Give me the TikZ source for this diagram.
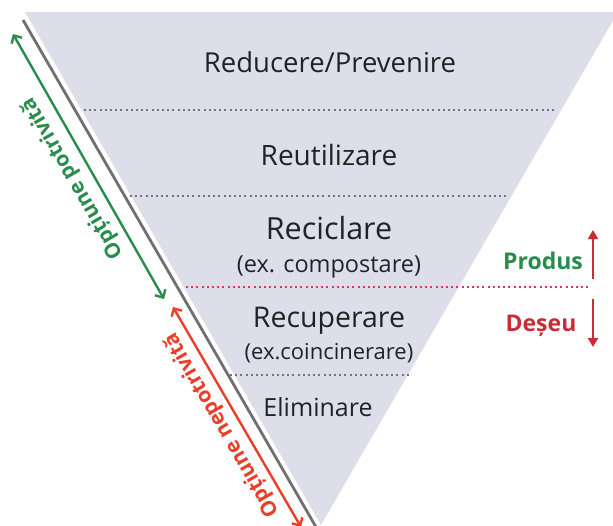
\documentclass[tikz,border=0pt]{standalone}
\usepackage{fontspec}
\setmainfont{Open Sans}
\usetikzlibrary{arrows.meta}
\definecolor{pyrfill}{RGB}{222,222,235}
\definecolor{edgegray}{RGB}{112,112,112}
\definecolor{dotgray}{RGB}{115,115,120}
\definecolor{dotred}{RGB}{210,60,80}
\definecolor{txtdark}{RGB}{34,34,38}
\definecolor{okgreen}{RGB}{42,140,76}
\definecolor{badred}{RGB}{235,62,42}
\definecolor{darkred}{RGB}{200,44,52}
\tikzset{
  lvl/.style={text=txtdark, inner sep=0pt, anchor=center},
  dotline/.style={line width=2pt, dash pattern=on 2pt off 3.2pt},
  sidelabel/.style={font=\fontsize{21}{25}\selectfont\bfseries, rotate=120, inner sep=0pt},
  dblarrow/.style={line width=2.4pt, {Straight Barb[length=6pt,width=12pt]}-{Straight Barb[length=6pt,width=12pt]}},
  flowarrow/.style={line width=2.6pt, darkred, -{Triangle[length=9pt,width=10pt]}},
}
\begin{document}
\begin{tikzpicture}[x=1pt,y=-1pt]
\useasboundingbox (0,0) rectangle (613,525);
\begin{scope}
\clip (0,0) rectangle (613,525);
% pyramid
\coordinate (TL) at (25,12);
\coordinate (TR) at (618,12);
\coordinate (AP) at (321,525);
\fill[pyrfill] (TL) -- (TR) -- (AP) -- cycle;
% gray edge line
\coordinate (G1) at (23,20);
\coordinate (G2) at (316,527);
\draw[edgegray, line width=2.8pt] (G1) -- (G2);
% dotted separators
\coordinate (d1a) at (84,110);  \coordinate (d1b) at (556,110);
\coordinate (d2a) at (130,196); \coordinate (d2b) at (508,196);
\coordinate (d3a) at (186,287); \coordinate (d3b) at (588,287);
\coordinate (d4a) at (230,375); \coordinate (d4b) at (410,375);
\draw[dotline, dotgray] (d1a) -- (d1b);
\draw[dotline, dotgray] (d2a) -- (d2b);
\draw[dotline, dotred] (d3a) -- (d3b);
\draw[dotline, dotgray] (d4a) -- (d4b);
% level texts
\node[lvl, font=\fontsize{27.5}{32}\selectfont] (reduc) at (330,62) {Reducere/Prevenire};
\node[lvl, font=\fontsize{28}{32}\selectfont] (reut) at (329,155) {Reutilizare};
\node[lvl, font=\fontsize{30.5}{35}\selectfont] (recic) at (329,228) {Reciclare};
\node[lvl, font=\fontsize{23.5}{28}\selectfont] (compo) at (329,267) {(ex. compostare)};
\node[lvl, font=\fontsize{28.5}{33}\selectfont] (recup) at (329,321) {Recuperare};
\node[lvl, font=\fontsize{22}{26}\selectfont] (coinc) at (329,353) {(ex.coincinerare)};
\node[lvl, font=\fontsize{25}{29}\selectfont] (elim) at (318,407) {Eliminare};
% right labels
\node[text=okgreen, font=\fontsize{23}{27}\selectfont\bfseries, inner sep=0pt] (produs) at (543,261) {Produs};
\node[text=darkred, font=\fontsize{23}{27}\selectfont\bfseries, inner sep=0pt] (deseu) at (541,326) {Deșeu};
\coordinate (up1) at (593,279); \coordinate (up2) at (593,230);
\coordinate (dn1) at (593,299); \coordinate (dn2) at (593,347);
\draw[flowarrow] (up1) -- (up2);
\draw[flowarrow] (dn1) -- (dn2);
% left arrows
\coordinate (ga) at (13,34); \coordinate (gb) at (164,299);
\draw[dblarrow, okgreen] (ga) -- (gb);
\node[sidelabel, text=okgreen] (potr) at (73,178) {Opțiune potrivită};
\coordinate (ra) at (173,307); \coordinate (rb) at (301,527);
\draw[dblarrow, badred] (ra) -- (rb);
\node[sidelabel, text=badred] (nepotr) at (222,425) {Opțiune nepotrivită};
\end{scope}
\end{tikzpicture}
\end{document}
